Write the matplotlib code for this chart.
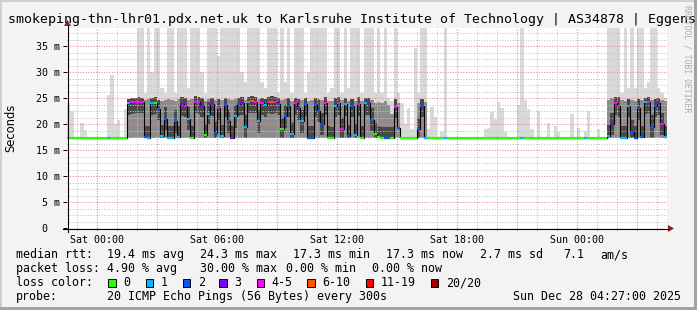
import numpy as np
import matplotlib.pyplot as plt
from matplotlib.patches import Rectangle, Polygon

# one bin = 10 minutes, hour 0 = Fri 22:30
step = 1 / 6
floor_ms = 17.3

median_ms = [
    17.3, 17.3, 17.3, 17.3, 17.3, 17.3, 17.3, 17.3, 17.3, 17.3, 17.3, 17.3, 17.3, 17.3, 17.3, 17.3, 17.3, 17.3,
    24.0, 24.2, 24.3, 24.3, 24.3, 17.5, 17.4, 24.0, 24.1, 22.9, 17.6, 21.0, 17.4, 17.4, 20.5, 17.5, 23.8, 23.5,
    21.0, 17.4, 24.3, 24.2, 23.5, 17.8, 22.0, 23.8, 18.2, 23.0, 17.6, 23.6, 20.5, 17.4, 21.5, 23.8, 24.0, 19.5,
    24.3, 24.4, 24.3, 20.5, 24.0, 23.6, 24.3, 24.2, 24.3, 23.9, 19.0, 21.5, 23.5, 18.0, 24.0, 23.0, 20.5, 23.8,
    17.4, 17.4, 23.6, 22.5, 20.0, 24.0, 17.4, 17.3, 23.5, 24.0, 19.0, 23.8, 17.6, 23.5, 17.8, 23.8, 17.4, 24.0,
    24.0, 20.8, 18.0, 17.5, 17.3, 17.3, 17.3, 17.3, 23.2, 19.2, 17.3, 17.3, 17.3, 17.3, 17.3, 19.0, 23.5, 17.3,
    17.3, 17.3, 17.3, 17.3, 17.3, 17.3, 17.3, 17.3, 17.3, 17.3, 17.3, 17.3, 17.3, 17.3, 17.3, 17.3, 17.3, 17.3,
    17.3, 17.3, 17.3, 17.3, 17.3, 17.3, 17.3, 17.3, 17.3, 17.3, 17.3, 17.3, 17.3, 17.3, 17.3, 17.3, 17.3, 17.3,
    17.3, 17.3, 17.3, 17.3, 17.3, 17.3, 17.3, 17.3, 17.3, 17.3, 17.3, 17.3, 17.3, 17.3, 17.3, 17.3, 17.3, 17.3,
    17.6, 20.0, 24.0, 23.5, 17.4, 17.4, 23.5, 18.5, 17.4, 23.0, 17.5, 24.2, 24.3, 19.5, 23.5, 24.0, 20.0, 17.5,
]

# lost pings out of 20
loss = [
    0, 0, 0, 0, 0, 0, 0, 0, 0, 0, 0, 0, 1, 0, 0, 0, 0, 0,
    1, 4, 4, 4, 4, 2, 1, 1, 0, 2, 1, 2, 1, 1, 2, 1, 3, 4,
    1, 0, 4, 4, 3, 0, 1, 3, 2, 4, 1, 2, 2, 3, 1, 2, 3, 1,
    1, 6, 4, 1, 4, 1, 4, 6, 4, 2, 0, 2, 2, 1, 4, 3, 1, 2,
    2, 2, 2, 2, 2, 4, 0, 0, 1, 4, 4, 1, 2, 2, 1, 4, 0, 1,
    3, 2, 0, 0, 0, 2, 2, 0, 4, 2, 0, 0, 0, 0, 0, 2, 2, 1,
    0, 0, 0, 0, 0, 1, 0, 0, 0, 0, 0, 0, 0, 0, 0, 0, 0, 0,
    0, 0, 0, 0, 0, 0, 0, 0, 0, 0, 1, 0, 0, 0, 0, 0, 0, 0,
    0, 0, 0, 0, 0, 0, 0, 0, 0, 0, 0, 1, 0, 0, 0, 0, 0, 0,
    1, 3, 4, 4, 1, 1, 1, 2, 2, 2, 2, 1, 4, 2, 2, 3, 4, 1,
]

# slowest ping per bin (smoke top)
ping_max = [
    24.0, 22.5, 17.3, 17.3, 20.2, 18.8, 17.3, 17.3, 17.3, 17.3, 17.3, 17.3, 25.6, 29.4, 20.0, 20.8, 17.3, 22.9,
    24.6, 24.8, 24.8, 40, 40, 26, 40, 30, 40, 40, 27, 26, 40, 40, 26, 40, 40, 40,
    27, 40, 40, 40, 30, 26, 40, 40, 40, 33, 40, 40, 40, 40, 40, 40, 30, 28,
    40, 40, 40, 40, 28, 27, 40, 40, 40, 26, 40, 28, 40, 26, 40, 40, 40, 26,
    30, 40, 40, 40, 40, 40, 26, 27, 40, 40, 26, 40, 27, 40, 40, 40, 26, 40,
    40, 40, 26, 40, 26, 40, 25, 24.5, 40, 26, 24, 20, 23, 19, 34.6, 26, 40, 40,
    19, 23.3, 21.3, 17.3, 18.5, 40, 17.3, 17.3, 17.3, 17.3, 17.3, 17.3, 17.3, 17.3, 17.3, 17.3, 17.3, 19,
    19.2, 22.3, 21, 24.3, 23, 18.5, 17.3, 17.3, 17.3, 23.6, 40, 24.6, 22.9, 19, 17.3, 22.5, 17.3, 17.3,
    20.2, 17.3, 19.6, 18.5, 17.3, 17.3, 17.3, 22, 17.3, 19.2, 17.3, 18.7, 22.5, 17.3, 17.3, 19, 17.3, 17.3,
    40, 40, 40, 40, 26, 40, 27, 40, 27, 40, 40, 27, 28, 40, 40, 27, 26, 25,
]

# upper edge of the dense smoke
ping_p90 = [
    17.3, 17.3, 17.3, 17.3, 17.3, 17.3, 17.3, 17.3, 17.3, 17.3, 17.3, 17.3, 17.3, 17.3, 17.3, 17.3, 17.3, 17.3,
    24.8, 25.0, 25.0, 25.2, 25.0, 24.6, 24.8, 25.0, 25.2, 24.6, 24.4, 24.6, 24.8, 24.6, 24.4, 24.8, 25.2, 25.0,
    24.6, 24.8, 25.4, 25.2, 25.0, 24.4, 24.8, 25.0, 24.6, 24.8, 24.6, 25.0, 24.8, 24.6, 24.8, 25.0, 25.2, 24.6,
    25.2, 25.4, 25.2, 24.8, 25.0, 24.8, 25.2, 25.4, 25.2, 25.0, 24.6, 24.8, 25.0, 24.4, 25.0, 24.8, 24.6, 25.0,
    24.4, 24.6, 25.0, 24.8, 24.6, 25.2, 24.4, 24.4, 25.0, 25.2, 24.6, 25.0, 24.4, 24.8, 24.4, 25.2, 24.4, 25.0,
    25.0, 24.6, 24.0, 24.2, 24.0, 24.4, 23.6, 22.0, 24.8, 24.0, 17.3, 17.3, 17.3, 17.3, 17.3, 24.0, 24.8, 24.2,
    17.3, 17.3, 17.3, 17.3, 17.3, 17.3, 17.3, 17.3, 17.3, 17.3, 17.3, 17.3, 17.3, 17.3, 17.3, 17.3, 17.3, 17.3,
    17.3, 17.3, 17.3, 17.3, 17.3, 17.3, 17.3, 17.3, 17.3, 17.3, 17.3, 17.3, 17.3, 17.3, 17.3, 17.3, 17.3, 17.3,
    17.3, 17.3, 17.3, 17.3, 17.3, 17.3, 17.3, 17.3, 17.3, 17.3, 17.3, 17.3, 17.3, 17.3, 17.3, 17.3, 17.3, 17.3,
    24.6, 25.0, 25.2, 25.2, 24.6, 24.4, 24.8, 24.6, 24.4, 24.8, 24.6, 25.0, 25.2, 24.6, 24.8, 25.0, 24.6, 24.4,
]

tick_hours = [1.5, 7.5, 13.5, 19.5, 25.5]
tick_labels = ["Sat 00:00", "Sat 06:00", "Sat 12:00", "Sat 18:00", "Sun 00:00"]
y_ticks = [0, 5, 10, 15, 20, 25, 30, 35]
y_labels = ["0  ", "5 m", "10 m", "15 m", "20 m", "25 m", "30 m", "35 m"]

loss_names = ["0", "1", "2", "3", "4-5", "6-10", "11-19", "20/20"]
loss_colors = ["#26ff00", "#00b8ff", "#0059ff", "#7e00ff", "#ff00ff", "#ff5500", "#ff0000", "#a10000"]
loss_x = [108.3, 145.7, 182.7, 219.3, 256.7, 307.3, 365.7, 430.7]


def loss_color(n):
    if n <= 3:
        return loss_colors[n]
    if n <= 5:
        return loss_colors[4]
    if n <= 10:
        return loss_colors[5]
    if n <= 19:
        return loss_colors[6]
    return loss_colors[7]


mono = "DejaVu Sans Mono"
W, H = 697, 310
fig = plt.figure(figsize=(W / 100, H / 100), dpi=100, facecolor="#f3f3f3")
ax = fig.add_axes([67 / W, 1 - 228 / H, 600 / W, 200 / H], zorder=2)
ax.set_facecolor("white")
ax.set_xlim(0, 30)
ax.set_ylim(0, 200 / 5.2)

med = np.array(median_ms)
top = np.array(ping_max)
p90 = np.array(ping_p90)
edges = np.arange(len(med) + 1) * step

def ext(a):
    return np.append(a, a[-1])

base = np.full(len(med), floor_ms)
ax.fill_between(edges, ext(base), ext(top), step="post", color="#d9d9d9", lw=0, zorder=1)
ax.fill_between(edges, ext(base), ext(p90), step="post", color="#8c8c8c", lw=0, zorder=2)
busy = p90 > floor_ms + 1
dlo = np.where(busy, np.maximum(floor_ms, med - 2.2), np.nan)
dhi = np.where(busy, np.minimum(p90, med + 2.2), np.nan)
ax.fill_between(edges, ext(dlo), ext(dhi), step="post", color="#484848", lw=0, zorder=3)

# grid
dots = (0, (1, 1.5))
for h in np.arange(0.5, 30, 1.0):
    major = abs((h - 1.5) % 3) < 1e-6
    ax.axvline(h, color="#e88a8a" if major else "#c4c4c4", lw=0.75, ls=dots, zorder=4)
    ax.plot([h, h], [0, -0.45], color="#e88a8a" if major else "#b0b0b0", lw=0.75,
            clip_on=False, zorder=4)
for v in np.arange(1.25, 38.5, 1.25):
    major = abs(v % 5) < 1e-6
    ax.axhline(v, color="#e88a8a" if major else "#c4c4c4", lw=0.75, ls=dots, zorder=4)

ax.step(edges, ext(med), where="post", color="black", lw=0.8, zorder=5)
ax.hlines(med, edges[:-1], edges[1:], colors=[loss_color(n) for n in loss],
          lw=1.6, zorder=6, capstyle="butt")

for s in ax.spines.values():
    s.set_visible(False)
ax.set_xticks(tick_hours)
ax.set_xticklabels(tick_labels, fontfamily=mono, fontsize=7.2)
ax.set_yticks(y_ticks)
ax.set_yticklabels(y_labels, fontfamily=mono, fontsize=7.2)
ax.tick_params(axis="x", length=0, pad=5.2)
ax.tick_params(axis="y", length=3, width=0.7, pad=2.2, color="black")

# overlay in pixel coordinates
ov = fig.add_axes([0, 0, 1, 1], zorder=10)
ov.set_xlim(0, W)
ov.set_ylim(H, 0)
ov.axis("off")
ov.patch.set_alpha(0)

ov.plot([63, 668], [228.5, 228.5], color="black", lw=0.8)
ov.plot([67.5, 67.5], [232, 26], color="black", lw=0.8)
ov.add_patch(Polygon([[668, 225], [674, 228.5], [668, 232]], closed=True, color="#8f2020", lw=0))
ov.add_patch(Polygon([[64, 26], [67.5, 20], [71, 26]], closed=True, color="#8f2020", lw=0))

# frame
ov.add_patch(Rectangle((0, 0), W, 2, color="#cfcfcf", lw=0))
ov.add_patch(Rectangle((0, 0), 2, H, color="#cfcfcf", lw=0))
ov.add_patch(Rectangle((0, H - 3), W, 3, color="#a3a3a3", lw=0))
ov.add_patch(Rectangle((W - 3, 0), 3, H, color="#a3a3a3", lw=0))

ov.text(8.3, 23.3, "smokeping-thn-lhr01.pdx.net.uk to Karlsruhe Institute of Technology | AS34878 | Eggenstein-Leopoldshafen",
        fontfamily=mono, fontsize=9.5, va="baseline", ha="left", clip_on=False)
ov.text(10.5, 128, "Seconds", family="DejaVu Sans", fontsize=8.3, rotation=90, va="center", ha="center")
ov.text(686.5, 59, "RRDTOOL / TOBI OETIKER", fontfamily=mono, fontsize=5.9, rotation=270,
        va="center", ha="center", color="#ababab")

fs = 8.35
rows = [
    (258.3, [(16, "median rtt:"), (107, "19.4 ms avg"), (199.5, "24.3 ms max"), (293, "17.3 ms min"),
             (386.3, "17.3 ms now"), (479.6, "2.7 ms sd"), (563, "7.1"), (600, "am/s")]),
    (272.2, [(16, "packet loss:"), (107, "4.90 % avg"), (199.5, "30.00 % max"), (286.3, "0.00 % min"),
             (372.3, "0.00 % now")]),
    (286.0, [(16, "loss color:")]),
    (299.8, [(16, "probe:"), (107, "20 ICMP Echo Pings (56 Bytes) every 300s"), (513, "Sun Dec 28 04:27:00 2025")]),
]
for yb, items in rows:
    for x, s in items:
        ov.text(x, yb, s, fontfamily=mono, fontsize=fs, va="baseline", ha="left")

for x, name, c in zip(loss_x, loss_names, loss_colors):
    ov.add_patch(Rectangle((x, 278.5), 7.5, 8, facecolor=c, edgecolor="black", lw=0.7))
    ov.text(x + 15, 286.0, name, fontfamily=mono, fontsize=fs, va="baseline", ha="left")

fig.savefig("out.png", dpi=100, facecolor=fig.get_facecolor())
